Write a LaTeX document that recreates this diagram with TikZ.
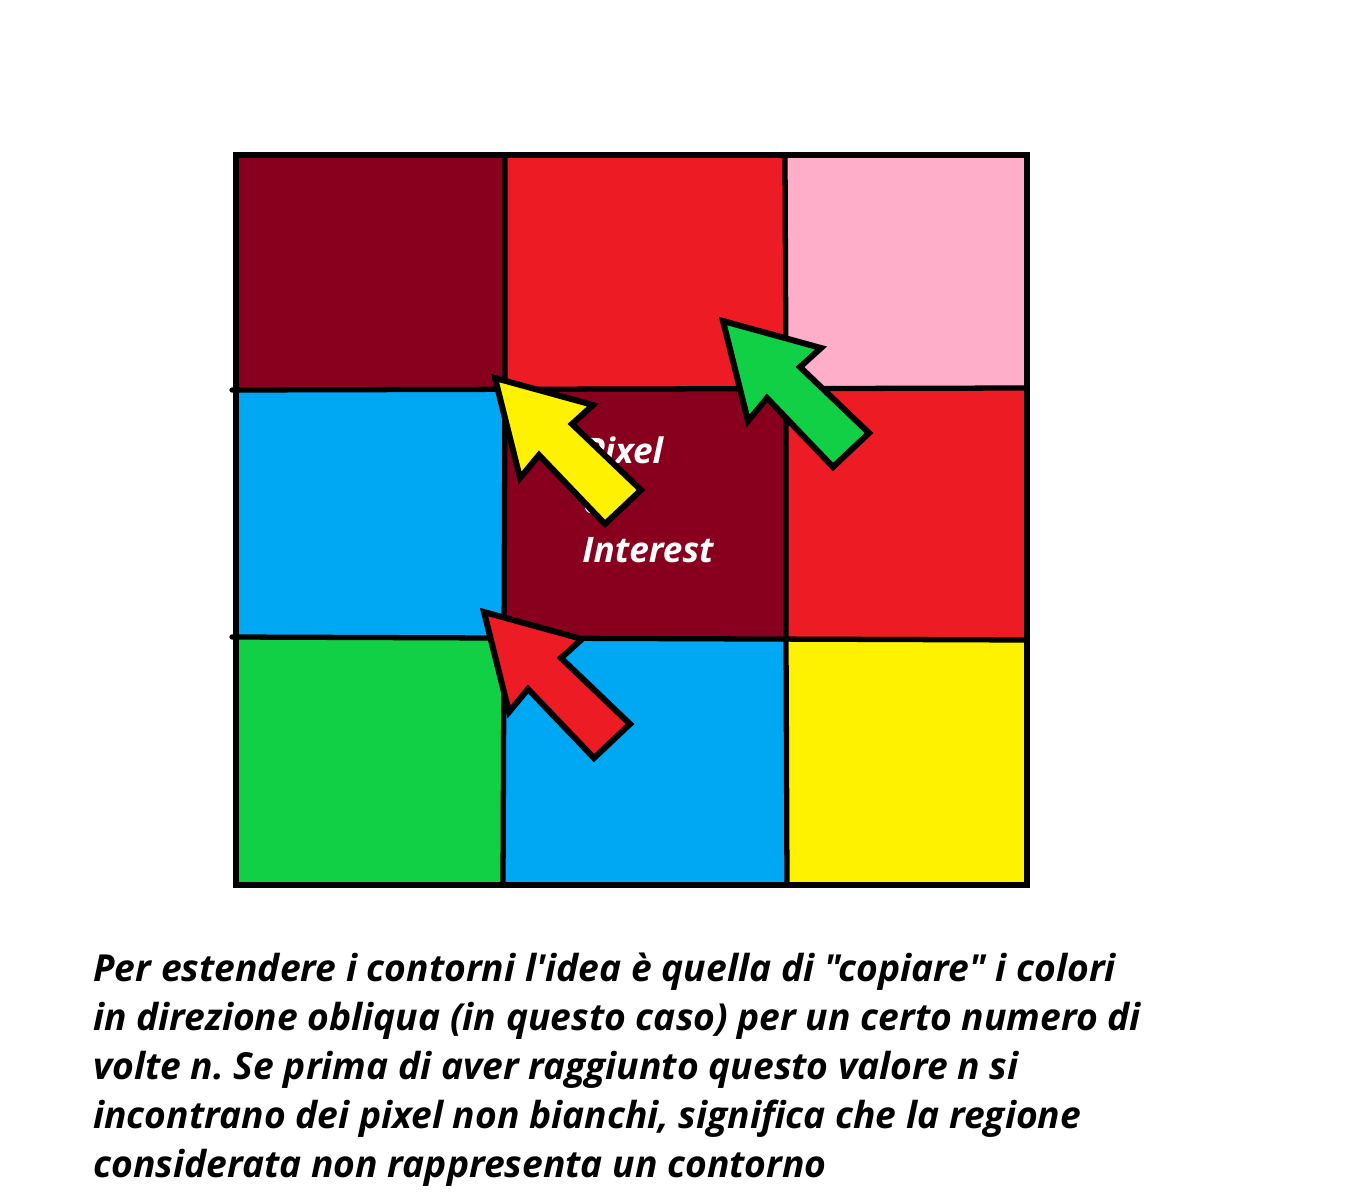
\documentclass[tikz,border=0pt]{standalone}
\usepackage{fontspec}
\newfontfamily\capfont{Open Sans}
\usepackage{xcolor}
\frenchspacing

\definecolor{darkpaint}{RGB}{136,0,30}
\definecolor{redpaint}{RGB}{237,28,36}
\definecolor{pinkpaint}{RGB}{255,174,201}
\definecolor{bluepaint}{RGB}{0,168,243}
\definecolor{greenpaint}{RGB}{17,208,70}
\definecolor{yellowpaint}{RGB}{255,242,0}

\tikzset{
  gridline/.style={line width=3pt, line cap=round},
  pics/obliq/.style={code={
    \draw[line width=3.4pt, line join=miter, fill=#1]
      (0,0) -- (98,27) -- (77,46) -- (146,112) -- (110,146) -- (44,77) -- (25,100) -- cycle;
  }},
  bodyline/.style={anchor=base west, inner sep=0pt, font=\capfont\fontsize{21.2}{26}\selectfont\bfseries\itshape},
  pixtext/.style={anchor=base west, inner sep=0pt, text=white, font=\capfont\fontsize{20}{24}\selectfont\bfseries\itshape}
}

\begin{document}
\begin{tikzpicture}[x=0.02cm, y=-0.02cm]
  \useasboundingbox (0,0) rectangle (1346,1200);

  % the nine pixels
  \fill[darkpaint]   (236,155) rectangle (505,389);
  \fill[redpaint]    (505,155) rectangle (786,389);
  \fill[pinkpaint]   (786,155) rectangle (1027,389);
  \fill[bluepaint]   (236,389) rectangle (505,639);
  \fill[darkpaint]   (505,389) rectangle (786,639);
  \fill[redpaint]    (786,389) rectangle (1027,639);
  \fill[greenpaint]  (236,639) rectangle (503,885);
  \fill[bluepaint]   (503,639) rectangle (787,885);
  \fill[yellowpaint] (787,639) rectangle (1027,885);

  % grid
  \draw[gridline] (232,390) -- (1027,388);
  \draw[gridline] (232,637) -- (1027,640);
  \draw[gridline] (505,155) -- (505,389) -- (504,639) -- (503,885);
  \draw[gridline] (785,155) -- (786,389) -- (786,639) -- (787,885);
  \draw[line width=3pt] (236,155) rectangle (1027,885);

  % pixel of interest
  \node[pixtext] (pix) at (584,463) {Pixel};
  \node[pixtext] (of) at (583,513) {of};
  \node[pixtext] (interest) at (582,562) {Interest};

  % arrows
  \pic (greenarrow) at (723,321) {obliq=greenpaint};
  \pic (yellowarrow) at (495,378) {obliq=yellowpaint};
  \pic (redarrow) at (484,612) {obliq=redpaint};

  % caption
  \node[bodyline] (l1) at (93,981) {Per estendere i contorni l'idea è quella di "copiare" i colori};
  \node[bodyline] (l2) at (93,1030) {in direzione obliqua (in questo caso) per un certo numero di};
  \node[bodyline] (l3) at (93,1079) {volte n. Se prima di aver raggiunto questo valore n si};
  \node[bodyline] (l4) at (93,1128) {incontrano dei pixel non bianchi, significa che la regione};
  \node[bodyline] (l5) at (93,1177) {considerata non rappresenta un contorno};
\end{tikzpicture}
\end{document}
